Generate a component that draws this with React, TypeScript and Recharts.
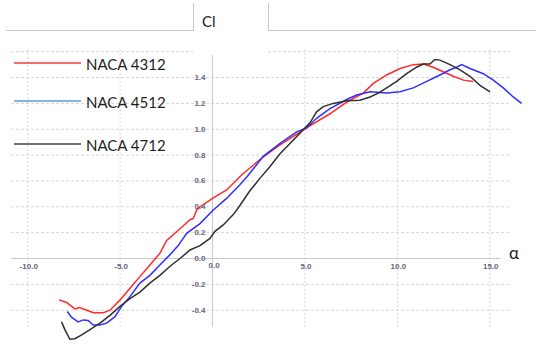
import React from 'react';
import { LineChart, Line, XAxis, YAxis, ReferenceLine, ReferenceDot } from 'recharts';

// angle of attack (deg) and lift coefficient
const alpha4312 = [-8.3, -7.9, -7.45, -7.2, -6.8, -6.45, -5.9, -5.55, -5.0, -4.47, -3.93, -3.39, -2.85, -2.48, -1.76, -1.22, -1.04, -0.86, -0.68, 0.04, 0.76, 1.6, 2.6, 3.65, 5.09, 6.35, 7.26, 8.15, 8.7, 9.42, 10.14, 10.86, 11.4, 11.94, 12.48, 13.03, 13.57, 14.1];
const cl4312 = [-0.32, -0.34, -0.39, -0.38, -0.4, -0.42, -0.42, -0.4, -0.32, -0.23, -0.14, -0.05, 0.04, 0.14, 0.23, 0.3, 0.31, 0.375, 0.4, 0.47, 0.53, 0.65, 0.77, 0.88, 1.01, 1.12, 1.21, 1.28, 1.355, 1.42, 1.47, 1.5, 1.505, 1.48, 1.445, 1.41, 1.38, 1.37];

const alpha4512 = [-7.86, -7.62, -7.27, -7.0, -6.73, -6.46, -6.1, -5.73, -5.28, -4.92, -4.47, -3.93, -3.39, -2.85, -2.3, -1.86, -1.4, -0.68, 0.04, 0.76, 1.48, 1.85, 2.74, 3.65, 4.55, 5.09, 5.63, 6.35, 7.26, 7.8, 8.52, 9.42, 10.14, 10.86, 11.59, 12.3, 12.85, 13.2, 13.48, 13.93, 14.65, 15.19, 15.73, 16.27, 16.72];
const cl4512 = [-0.41, -0.455, -0.49, -0.475, -0.48, -0.515, -0.515, -0.5, -0.45, -0.37, -0.295, -0.19, -0.13, -0.05, 0.03, 0.1, 0.195, 0.27, 0.375, 0.465, 0.57, 0.63, 0.79, 0.89, 0.98, 1.01, 1.085, 1.16, 1.23, 1.265, 1.29, 1.28, 1.29, 1.32, 1.37, 1.42, 1.46, 1.48, 1.5, 1.47, 1.43, 1.38, 1.32, 1.25, 1.2];

const alpha4712 = [-8.17, -7.99, -7.72, -7.45, -7.08, -6.63, -6.09, -5.55, -5.01, -4.47, -3.93, -3.39, -2.85, -2.3, -1.76, -1.22, -0.68, -0.14, 0.13, 0.58, 1.12, 1.48, 2.0, 2.56, 3.1, 3.65, 4.19, 4.73, 5.27, 5.63, 5.99, 6.53, 7.26, 7.98, 8.52, 8.97, 9.42, 9.96, 10.5, 11.04, 11.4, 11.76, 12.03, 12.3, 12.85, 13.39, 13.93, 14.47, 15.01];
const cl4712 = [-0.49, -0.55, -0.625, -0.62, -0.59, -0.55, -0.5, -0.44, -0.37, -0.31, -0.26, -0.19, -0.13, -0.06, 0.0, 0.066, 0.1, 0.155, 0.21, 0.26, 0.34, 0.41, 0.52, 0.62, 0.71, 0.81, 0.89, 0.97, 1.05, 1.135, 1.175, 1.2, 1.22, 1.225, 1.25, 1.28, 1.32, 1.37, 1.43, 1.48, 1.505, 1.505, 1.54, 1.535, 1.5, 1.46, 1.41, 1.34, 1.29];

const xTicks = [-10, -5, 5, 10, 15];
const xLabels = ['-10.0', '-5.0', '5.0', '10.0', '15.0'];
const yGrid = [1.6, 1.4, 1.2, 1.0, 0.8, 0.6, 0.4, 0.2, -0.2, -0.4];
const yTicks = [1.4, 1.2, 1.0, 0.8, 0.6, 0.4, 0.2, 0.0, -0.2, -0.4];
const yLabels = ['1.4', '1.2', '1.0', '0.8', '0.6', '0.4', '0.2', '0.0', '-0.2', '-0.4'];

const series = [
  { name: 'NACA 4312', a: alpha4312, cl: cl4312, color: '#ff2a2a', legend: '#e8403c', top: 63 },
  { name: 'NACA 4512', a: alpha4512, cl: cl4512, color: '#2f2fff', legend: '#5b9bd5', top: 101 },
  { name: 'NACA 4712', a: alpha4712, cl: cl4712, color: '#303030', legend: '#404040', top: 144 },
];

const W = 536;
const H = 349;
const gridColor = '#d6d6d6';
const labelColor = '#66667e';

export default function App() {
  return (
    <div style={{ position: 'absolute', left: 0, top: 0, width: W, height: H, background: '#fff', fontFamily: 'Lato, sans-serif' }}>
      <LineChart width={W} height={H} margin={{ top: 0, right: 0, bottom: 0, left: 0 }}>
        <XAxis type="number" dataKey="a" domain={[-11.5, 17.5]} hide allowDataOverflow />
        <YAxis type="number" dataKey="cl" domain={[-0.7, 2.0]} hide allowDataOverflow />
        {yGrid.map((v) =>
          v === 1.6 ? (
            <React.Fragment key={v}>
              <ReferenceLine segment={[{ x: -10.9, y: v }, { x: -1.06, y: v }]} stroke={gridColor} strokeDasharray="3 2" ifOverflow="visible" />
              <ReferenceLine segment={[{ x: 3.0, y: v }, { x: 16.1, y: v }]} stroke={gridColor} strokeDasharray="3 2" ifOverflow="visible" />
            </React.Fragment>
          ) : (
            <ReferenceLine key={v} segment={[{ x: -10.9, y: v }, { x: 16.1, y: v }]} stroke={gridColor} strokeDasharray="3 2" ifOverflow="visible" />
          )
        )}
        {xTicks.map((v) => (
          <ReferenceLine key={v} segment={[{ x: v, y: 1.62 }, { x: v, y: -0.53 }]} stroke={gridColor} strokeDasharray="2 2" ifOverflow="visible" />
        ))}
        <ReferenceLine segment={[{ x: -10.9, y: 0 }, { x: 15.6, y: 0 }]} stroke="#c9c9c9" ifOverflow="visible" />
        <ReferenceLine segment={[{ x: 0, y: 1.575 }, { x: 0, y: -0.53 }]} stroke="#c9c9c9" ifOverflow="visible" />
        {series.map((s) => (
          <Line
            key={s.name}
            data={s.a.map((a, i) => ({ a, cl: s.cl[i] }))}
            dataKey="cl"
            name={s.name}
            stroke={s.color}
            strokeWidth={1.5}
            dot={false}
            activeDot={false}
            type="linear"
            isAnimationActive={false}
          />
        ))}
        {xTicks.map((v, i) => (
          <ReferenceDot
            key={'xl' + v}
            x={v}
            y={0}
            ifOverflow="visible"
            shape={(p: any) => (
              <text x={p.cx + 1} y={p.cy + 8} textAnchor="middle" dominantBaseline="central" fontSize={8} fontWeight="bold" fill={labelColor} fontFamily="Liberation Sans, sans-serif">
                {xLabels[i]}
              </text>
            )}
          />
        ))}
        <ReferenceDot
          x={0}
          y={0}
          ifOverflow="visible"
          shape={(p: any) => (
            <text x={p.cx + 1.5} y={p.cy + 7} textAnchor="middle" dominantBaseline="central" fontSize={8} fontWeight="bold" fill={labelColor} fontFamily="Liberation Sans, sans-serif">
              0.0
            </text>
          )}
        />
        {yTicks.map((v, i) => (
          <ReferenceDot
            key={'yl' + v}
            x={0}
            y={v}
            ifOverflow="visible"
            shape={(p: any) => (
              <text x={p.cx - 7} y={p.cy} textAnchor="end" dominantBaseline="central" fontSize={8} fontWeight="bold" fill={labelColor} fontFamily="Liberation Sans, sans-serif">
                {yLabels[i]}
              </text>
            )}
          />
        ))}
      </LineChart>

      {/* title tab */}
      <div style={{ position: 'absolute', left: 6, top: 30, width: 187, height: 0, borderTop: '1px solid #c8c8c8' }} />
      <div style={{ position: 'absolute', left: 268, top: 30, width: 268, height: 0, borderTop: '1px solid #c8c8c8' }} />
      <div style={{ position: 'absolute', left: 193, top: 3, width: 0, height: 28, borderLeft: '1px solid #c8c8c8' }} />
      <div style={{ position: 'absolute', left: 268, top: 3, width: 0, height: 28, borderLeft: '1px solid #c8c8c8' }} />
      <div style={{ position: 'absolute', left: 202, top: 12, fontSize: 15, lineHeight: '18px', color: '#222' }}>Cl</div>

      {/* legend */}
      <svg style={{ position: 'absolute', left: 0, top: 0 }} width={90} height={160}>
        {series.map((s) => (
          <line key={s.name} x1={14} x2={81} y1={s.top} y2={s.top} stroke={s.legend} strokeWidth={1.5} />
        ))}
      </svg>
      {series.map((s) => (
        <div key={s.name} style={{ position: 'absolute', left: 86, top: s.top - 8, fontSize: 15, lineHeight: '18px', color: '#1e1e1e', whiteSpace: 'nowrap' }}>{s.name}</div>
      ))}

      <div style={{ position: 'absolute', left: 509, top: 243, fontSize: 17, lineHeight: '20px', color: '#222' }}>α</div>
    </div>
  );
}
